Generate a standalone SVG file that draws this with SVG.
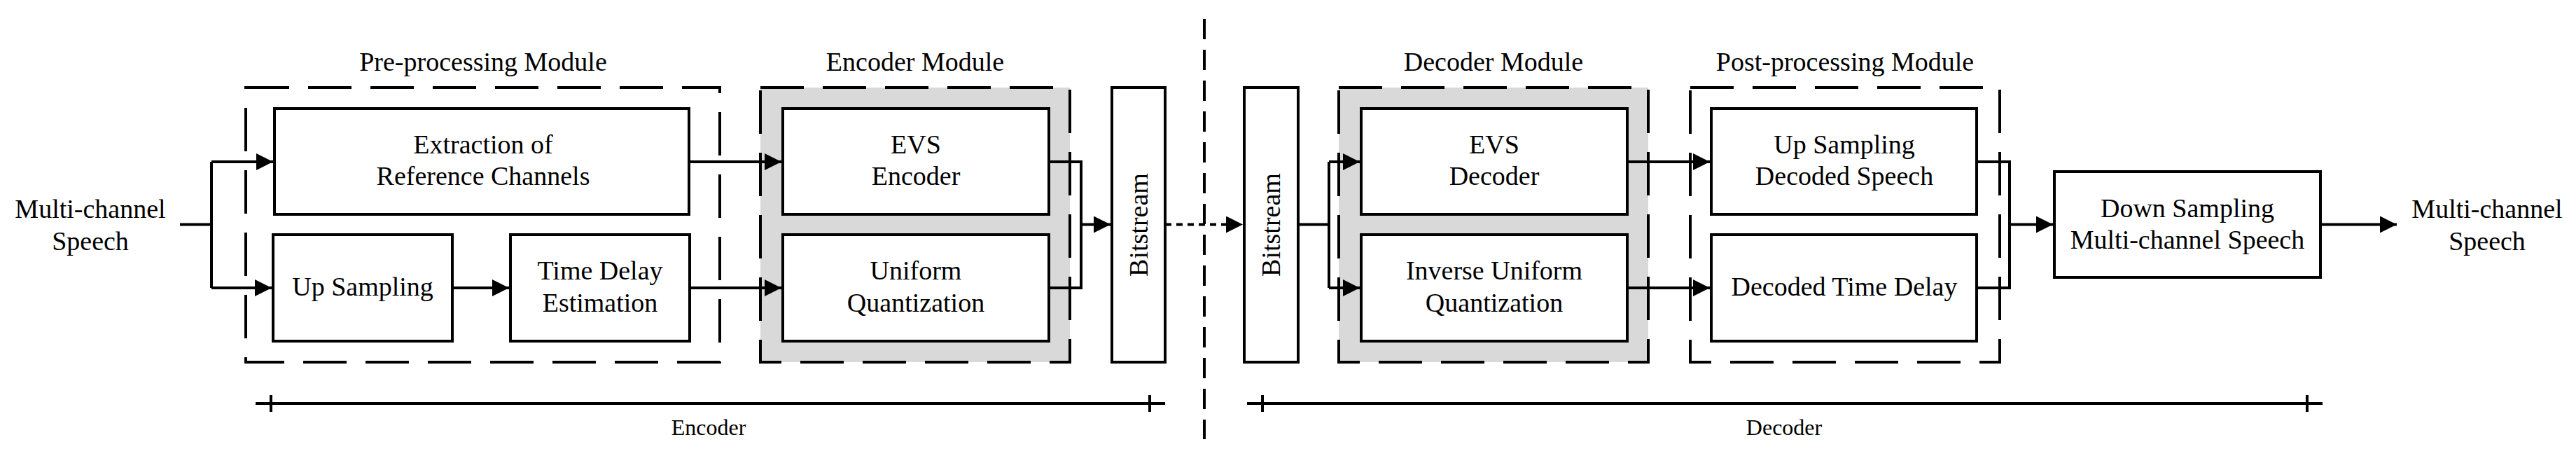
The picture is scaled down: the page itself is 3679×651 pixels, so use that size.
<svg xmlns="http://www.w3.org/2000/svg" width="3679" height="651" viewBox="0 0 3679 651">
<style>
text{font-family:"Liberation Serif",serif;font-size:38px;fill:#000;text-anchor:middle}
.box{fill:#fff;stroke:#000;stroke-width:4}
.mod{fill:none;stroke:#000;stroke-width:4;stroke-dasharray:62 27}
.gray{fill:#d9d9d9}
.ln{fill:none;stroke:#000;stroke-width:4}
.sm{font-size:32px}
</style>
<defs>
<marker id="ah" markerWidth="6" markerHeight="6" refX="6" refY="3" orient="auto" markerUnits="strokeWidth"><path d="M0,0 L6,3 L0,6 z" fill="#000"/></marker>
</defs>
<rect width="3679" height="651" fill="#fff"/>
<g id="modules">
<rect class="gray" x="1086" y="125" width="442" height="392"/>
<rect class="gray" x="1912" y="125" width="442" height="392"/>
<rect class="mod" x="351" y="125" width="677" height="392"/>
<rect class="mod" x="1086" y="125" width="442" height="392"/>
<rect class="mod" x="1912" y="125" width="442" height="392"/>
<rect class="mod" x="2414" y="125" width="442" height="392"/>
<text x="690" y="101">Pre-processing Module</text>
<text x="1307" y="101">Encoder Module</text>
<text x="2133" y="101">Decoder Module</text>
<text x="2635" y="101">Post-processing Module</text>
</g>
<g id="in"><text x="129" y="311">Multi-channel</text><text x="129" y="357">Speech</text></g>
<g id="out"><text x="3552" y="311">Multi-channel</text><text x="3552" y="357">Speech</text></g>
<g id="extract"><rect class="box" x="392" y="155" width="592" height="151"/><text x="690" y="219">Extraction of</text><text x="690" y="264">Reference Channels</text></g>
<g id="upsamp"><rect class="box" x="390" y="335" width="256" height="152"/><text x="518" y="422">Up Sampling</text></g>
<g id="tde"><rect class="box" x="729" y="335" width="256" height="152"/><text x="857" y="399">Time Delay</text><text x="857" y="445">Estimation</text></g>
<g id="evsenc"><rect class="box" x="1118" y="155" width="380" height="151"/><text x="1308" y="219">EVS</text><text x="1308" y="264">Encoder</text></g>
<g id="uq"><rect class="box" x="1118" y="335" width="380" height="152"/><text x="1308" y="399">Uniform</text><text x="1308" y="445">Quantization</text></g>
<g id="bs1"><rect class="box" x="1588" y="125" width="76" height="392"/><text transform="translate(1639,321) rotate(-90)">Bitstream</text></g>
<g id="bs2"><rect class="box" x="1777" y="125" width="77" height="392"/><text transform="translate(1828,321) rotate(-90)">Bitstream</text></g>
<g id="evsdec"><rect class="box" x="1944" y="155" width="380" height="151"/><text x="2134" y="219">EVS</text><text x="2134" y="264">Decoder</text></g>
<g id="iuq"><rect class="box" x="1944" y="335" width="380" height="152"/><text x="2134" y="399">Inverse Uniform</text><text x="2134" y="445">Quantization</text></g>
<g id="upsd"><rect class="box" x="2444" y="155" width="379" height="151"/><text x="2634" y="219">Up Sampling</text><text x="2634" y="264">Decoded Speech</text></g>
<g id="dtd"><rect class="box" x="2444" y="335" width="379" height="152"/><text x="2634" y="422">Decoded Time Delay</text></g>
<g id="down"><rect class="box" x="2934" y="245" width="380" height="151"/><text x="3124" y="310">Down Sampling</text><text x="3124" y="355">Multi-channel Speech</text></g>
<g id="connectors">
<path class="ln" d="M257,320.5 H302 M302,231 V411"/>
<path class="ln" d="M302,231 H390" marker-end="url(#ah)"/>
<path class="ln" d="M302,411 H388" marker-end="url(#ah)"/>
<path class="ln" d="M646,411 H727" marker-end="url(#ah)"/>
<path class="ln" d="M984,231 H1116" marker-end="url(#ah)"/>
<path class="ln" d="M985,411 H1116" marker-end="url(#ah)"/>
<path class="ln" d="M1498,231 H1544 V411 H1498"/>
<path class="ln" d="M1544,320.5 H1586" marker-end="url(#ah)"/>
<path class="ln" d="M1664,320.5 H1775" stroke-dasharray="9 7" marker-end="url(#ah)"/>
<path class="ln" d="M1854,320.5 H1898 M1898,231 V411"/>
<path class="ln" d="M1898,231 H1942" marker-end="url(#ah)"/>
<path class="ln" d="M1898,411 H1942" marker-end="url(#ah)"/>
<path class="ln" d="M2324,231 H2442" marker-end="url(#ah)"/>
<path class="ln" d="M2324,411 H2442" marker-end="url(#ah)"/>
<path class="ln" d="M2823,231 H2870 V411 H2823"/>
<path class="ln" d="M2870,320.5 H2932" marker-end="url(#ah)"/>
<path class="ln" d="M3314,320.5 H3423" marker-end="url(#ah)"/>
<path class="ln" d="M1720,27 V627" stroke-width="3" stroke-dasharray="29 15"/>
<path class="ln" d="M365,576 H1664 M387,564 V588 M1642,564 V588"/>
<path class="ln" d="M1781,576 H3317 M1803,564 V588 M3295,564 V588"/>
</g>
<text class="sm" x="1012" y="621">Encoder</text>
<text class="sm" x="2548" y="621">Decoder</text>
</svg>
